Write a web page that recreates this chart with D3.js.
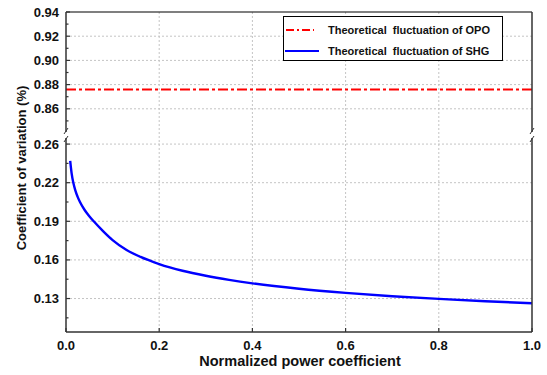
<!DOCTYPE html>
<html>
<head>
<meta charset="utf-8">
<script src="https://cdn.jsdelivr.net/npm/d3@7"></script>
<style>
  body { margin: 0; background: #fff; }
  svg text { font-family: "Liberation Sans", Arial, sans-serif; font-weight: bold; fill: #111; }
</style>
</head>
<body>
<div id="chart"></div>
<script>
// data
const shgX = [0.009, 0.012, 0.016, 0.02, 0.025, 0.03, 0.04, 0.05, 0.06, 0.08, 0.1, 0.13, 0.16, 0.2, 0.25, 0.3, 0.35, 0.4, 0.5, 0.6, 0.7, 0.8, 0.9, 1.0];
const shgY = [0.237, 0.2275, 0.2195, 0.214, 0.209, 0.205, 0.1988, 0.194, 0.1898, 0.1822, 0.1754, 0.1677, 0.1623, 0.1568, 0.1516, 0.1477, 0.1445, 0.1418, 0.1376, 0.1344, 0.1318, 0.1297, 0.1279, 0.1263];
const opoValue = 0.8759;
const xTicks = [0, 0.2, 0.4, 0.6, 0.8, 1.0];
const upperTicks = [0.86, 0.88, 0.90, 0.92, 0.94];
const upperMinor = [0.85, 0.87, 0.89, 0.91, 0.93];
const lowerTicks = [0.13, 0.16, 0.19, 0.22, 0.25];
const lowerTickLabels = ["0.13", "0.16", "0.19", "0.22", "0.26"];
const lowerMinor = [0.115, 0.145, 0.175, 0.205, 0.235];
const legendLabels = ["Theoretical\u00a0 fluctuation of OPO", "Theoretical\u00a0 fluctuation of SHG"];

const W = 547, H = 375;
const pL = 66, pR = 532, pT = 12, pB = 332;
const breakTop = 133, breakBottom = 137;

const svg = d3.select("#chart").append("svg").attr("width", W).attr("height", H);

const x = d3.scaleLinear().domain([0, 1]).range([pL, pR]);
const yUp = d3.scaleLinear().domain([0.84, 0.94]).range([breakTop, pT]);
const yLow = d3.scaleLinear().domain([0.104, 0.2555]).range([pB, breakBottom]);

// grid
const grid = svg.append("g").attr("stroke", "#c4c4c4").attr("stroke-dasharray", "2,2").attr("stroke-width", 1);
grid.selectAll(".gx").data(xTicks.filter(d => d > 0 && d < 1)).enter().append("line")
  .attr("x1", d => x(d)).attr("x2", d => x(d)).attr("y1", pT).attr("y2", pB);
grid.selectAll(".gu").data(upperTicks.filter(d => d < 0.94)).enter().append("line")
  .attr("x1", pL).attr("x2", pR).attr("y1", d => yUp(d)).attr("y2", d => yUp(d));
grid.selectAll(".gl").data(lowerTicks).enter().append("line")
  .attr("x1", pL).attr("x2", pR).attr("y1", d => yLow(d)).attr("y2", d => yLow(d));

// data lines
svg.append("line")
  .attr("x1", x(0)).attr("x2", x(1)).attr("y1", yUp(opoValue)).attr("y2", yUp(opoValue))
  .attr("stroke", "#ff0000").attr("stroke-width", 2).attr("stroke-dasharray", "10,3,3,3");

const shg = shgX.map((v, i) => [v, shgY[i]]);
svg.append("path").datum(shg)
  .attr("fill", "none").attr("stroke", "#0000ff").attr("stroke-width", 2.4)
  .attr("d", d3.line().x(d => x(d[0])).y(d => yLow(d[1])).curve(d3.curveMonotoneX));

// frame
const axisCol = "#333";
const frame = svg.append("g").attr("stroke", axisCol).attr("stroke-width", 1.5).attr("fill", "none");
frame.append("line").attr("x1", pL).attr("x2", pR).attr("y1", pT).attr("y2", pT).attr("stroke", "#000").attr("stroke-width", 1.2);
frame.append("line").attr("x1", pL).attr("x2", pR).attr("y1", pB).attr("y2", pB);
[pL, pR].forEach(px => {
  frame.append("line").attr("x1", px).attr("x2", px).attr("y1", pT).attr("y2", breakTop - 1);
  frame.append("line").attr("x1", px).attr("x2", px).attr("y1", breakBottom + 1).attr("y2", pB);
  // break marks
  frame.append("line").attr("x1", px - 2).attr("x2", px + 2).attr("y1", breakTop + 1).attr("y2", breakTop - 5).attr("stroke-width", 1);
  frame.append("line").attr("x1", px - 2).attr("x2", px + 2).attr("y1", breakBottom + 5).attr("y2", breakBottom - 1).attr("stroke-width", 1);
});

// ticks (inward)
const ticks = svg.append("g").attr("stroke", axisCol).attr("stroke-width", 1.2);
upperTicks.forEach(v => ticks.append("line").attr("x1", pL).attr("x2", pL + 4).attr("y1", yUp(v)).attr("y2", yUp(v)));
upperMinor.forEach(v => ticks.append("line").attr("x1", pL).attr("x2", pL + 2.5).attr("y1", yUp(v)).attr("y2", yUp(v)));
lowerTicks.forEach(v => ticks.append("line").attr("x1", pL).attr("x2", pL + 4).attr("y1", yLow(v)).attr("y2", yLow(v)));
lowerMinor.forEach(v => ticks.append("line").attr("x1", pL).attr("x2", pL + 2.5).attr("y1", yLow(v)).attr("y2", yLow(v)));
xTicks.forEach(v => ticks.append("line").attr("x1", x(v)).attr("x2", x(v)).attr("y1", pB).attr("y2", pB - 4));

// tick labels
const lab = svg.append("g").attr("font-size", 13);
lab.selectAll(".tu").data(upperTicks).enter().append("text")
  .attr("x", pL - 7).attr("y", d => yUp(d)).attr("dy", "0.35em").attr("text-anchor", "end")
  .text(d => d.toFixed(2));
lab.selectAll(".tl").data(lowerTicks).enter().append("text")
  .attr("x", pL - 7).attr("y", d => yLow(d)).attr("dy", "0.35em").attr("text-anchor", "end")
  .text((d, i) => lowerTickLabels[i]);
lab.selectAll(".tx").data(xTicks).enter().append("text")
  .attr("x", d => x(d)).attr("y", pB + 18).attr("text-anchor", "middle")
  .text(d => d.toFixed(1));

// titles
svg.append("text").attr("x", (pL + pR) / 2 + 1).attr("y", 366).attr("text-anchor", "middle")
  .attr("font-size", 14.5).text("Normalized power coefficient");
svg.append("text").attr("transform", "translate(26," + 168 + ") rotate(-90)").attr("text-anchor", "middle")
  .attr("font-size", 13).text("Coefficient of variation (%)");

// legend
const lg = svg.append("g");
lg.append("rect").attr("x", 283.5).attr("y", 16.5).attr("width", 219).attr("height", 44)
  .attr("fill", "#fff").attr("stroke", "#000").attr("stroke-width", 1);
lg.append("line").attr("x1", 286).attr("x2", 314).attr("y1", 30).attr("y2", 30)
  .attr("stroke", "#ff0000").attr("stroke-width", 2).attr("stroke-dasharray", "8,3,2,3");
lg.append("line").attr("x1", 285).attr("x2", 319).attr("y1", 51).attr("y2", 51)
  .attr("stroke", "#0000ff").attr("stroke-width", 2.2);
lg.selectAll(".lt").data(legendLabels).enter().append("text")
  .attr("x", 328).attr("y", (d, i) => 34 + i * 21).attr("font-size", 11).text(d => d);
</script>
</body>
</html>
